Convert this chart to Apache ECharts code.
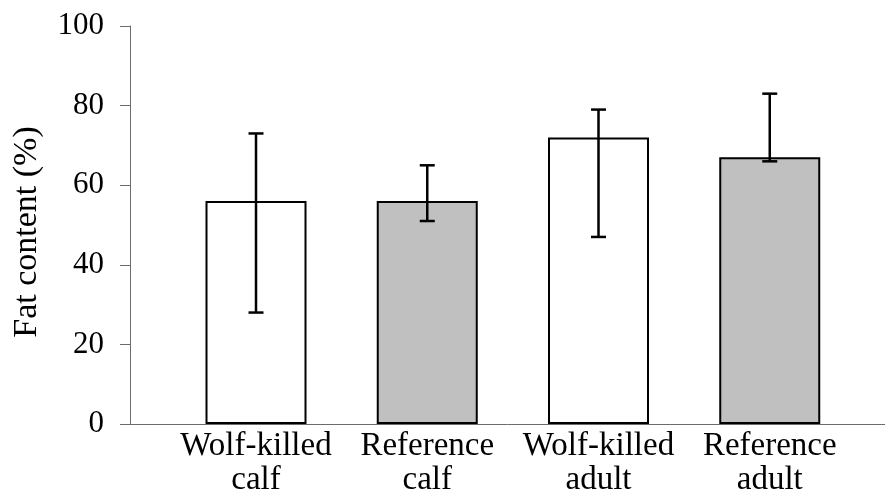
<!DOCTYPE html>
<html>
<head>
<meta charset="utf-8">
<script src="https://cdn.jsdelivr.net/npm/echarts@6/dist/echarts.min.js"></script>
<style>
  html, body { margin: 0; padding: 0; background: #fff; }
  #chart { width: 885px; height: 497px; }
</style>
</head>
<body>
<div id="chart"></div>
<script>
// Groups shown along the bottom axis
const categories = ['Wolf-killed\ncalf', 'Reference\ncalf', 'Wolf-killed\nadult', 'Reference\nadult'];
// Mean fat content (%) per group
const meanFat = [56, 56, 72, 67];
// Error bar ends (%) per group
const errLow = [28, 51, 47, 66];
const errHigh = [73, 65, 79, 83];
// Bar fills: wolf-killed groups white, reference groups grey
const barFills = ['#ffffff', '#c0c0c0', '#ffffff', '#c0c0c0'];
// Y axis ticks
const yTicks = [0, 20, 40, 60, 80, 100];

const font = '"Liberation Serif", "Times New Roman", serif';
const axisGrey = '#6b6b6b';

const chart = echarts.init(document.getElementById('chart'), null, { renderer: 'canvas' });

const barData = meanFat.map((v, i) => ({
  value: [i, v],
  itemStyle: { color: barFills[i] }
}));
const errData = meanFat.map((v, i) => [i, errLow[i], errHigh[i]]);

chart.setOption({
  animation: false,
  backgroundColor: '#ffffff',
  grid: {
    left: 130, right: 0, top: 26, bottom: 73,
    containLabel: false,
    outerBoundsMode: 'none'
  },
  xAxis: {
    type: 'value',
    min: -0.7358,
    max: 3.673,
    splitLine: { show: false },
    axisTick: { show: false },
    axisLine: { show: true, onZero: false, lineStyle: { color: axisGrey, width: 1 } },
    axisLabel: {
      customValues: categories.map((c, i) => i),
      formatter: (val) => categories[Math.round(val)] || '',
      fontFamily: font,
      fontSize: 33,
      lineHeight: 34,
      color: '#000',
      margin: 5
    }
  },
  yAxis: {
    type: 'value',
    min: yTicks[0],
    max: yTicks[yTicks.length - 1],
    interval: 20,
    name: 'Fat content (%)',
    nameLocation: 'middle',
    nameRotate: 90,
    nameGap: 86,
    nameTextStyle: { fontFamily: font, fontSize: 34, color: '#000', padding: [0, 14, 0, 0] },
    splitLine: { show: false },
    axisLine: { show: true, onZero: false, lineStyle: { color: axisGrey, width: 1 } },
    axisTick: { show: true, inside: false, length: 10, lineStyle: { color: axisGrey, width: 1 } },
    axisLabel: {
      fontFamily: font,
      fontSize: 31,
      color: '#000',
      margin: 26
    }
  },
  series: [
    {
      type: 'bar',
      data: barData,
      barWidth: 101,
      itemStyle: { borderColor: '#000', borderWidth: 2 },
      z: 2
    },
    {
      type: 'custom',
      data: errData,
      z: 3,
      renderItem: (params, api) => {
        const x = api.value(0);
        const lo = api.coord([x, api.value(1)]);
        const hi = api.coord([x, api.value(2)]);
        const half = 7.5;
        const style = { stroke: '#000', lineWidth: 2.5, fill: null };
        return {
          type: 'group',
          children: [
            { type: 'line', shape: { x1: hi[0], y1: hi[1], x2: lo[0], y2: lo[1] }, style },
            { type: 'line', shape: { x1: hi[0] - half, y1: hi[1], x2: hi[0] + half, y2: hi[1] }, style },
            { type: 'line', shape: { x1: lo[0] - half, y1: lo[1], x2: lo[0] + half, y2: lo[1] }, style }
          ]
        };
      }
    }
  ]
});
</script>
</body>
</html>
